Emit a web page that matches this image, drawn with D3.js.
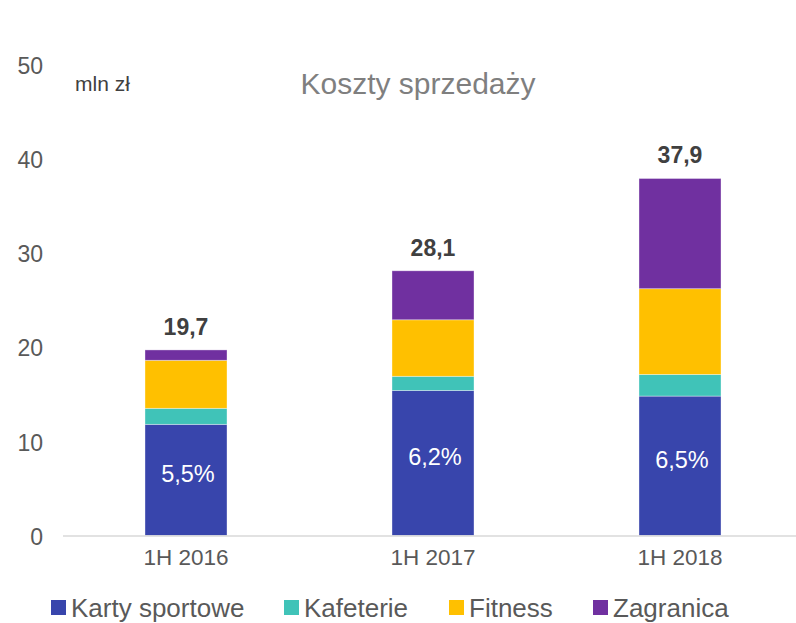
<!DOCTYPE html>
<html>
<head>
<meta charset="utf-8">
<script src="https://cdn.jsdelivr.net/npm/d3@7/dist/d3.min.js"></script>
<style>
  body { margin: 0; background: #fff; }
  text { font-family: "Liberation Sans", Arial, sans-serif; }
</style>
</head>
<body>
<svg width="796" height="623"></svg>
<script>
// data
var categories = ["1H 2016", "1H 2017", "1H 2018"];
var seriesNames = ["Karty sportowe", "Kafeterie", "Fitness", "Zagranica"];
var kartySportowe = [11.8, 15.4, 14.8];
var kafeterie = [1.7, 1.5, 2.3];
var fitness = [5.1, 6.0, 9.1];
var zagranica = [1.1, 5.2, 11.7];
var totals = ["19,7", "28,1", "37,9"];
var shares = ["5,5%", "6,2%", "6,5%"];
var yTicks = [0, 10, 20, 30, 40, 50];

var colors = ["#3845ac", "#40c3b8", "#ffc000", "#7030a0"];

var svg = d3.select("svg");

var rows = categories.map(function(c, i) {
    return {
        cat: c,
        "Karty sportowe": kartySportowe[i],
        "Kafeterie": kafeterie[i],
        "Fitness": fitness[i],
        "Zagranica": zagranica[i],
        total: totals[i],
        share: shares[i]
    };
});

var xScale = d3.scaleBand().domain(categories).range([62.5, 803.5])
        .paddingInner(0.668).paddingOuter(0.334),
    yScale = d3.scaleLinear().domain([0, 50]).range([535.5, 64.5]);

var color = d3.scaleOrdinal().domain(seriesNames).range(colors);

var stack = d3.stack().keys(seriesNames)(rows);

// y axis labels (no line, no ticks)
var yAxis = svg.append("g")
    .attr("transform", "translate(43,0)")
    .call(d3.axisLeft(yScale).tickValues(yTicks).tickSize(0).tickPadding(0));
yAxis.select(".domain").remove();
yAxis.selectAll("text")
    .attr("dy", "0.38em")
    .style("font-size", "23px")
    .style("fill", "#595959");

// bars
svg.append("g").selectAll("g")
    .data(stack)
    .enter().append("g")
    .attr("fill", function(d) { return color(d.key); })
    .selectAll("rect")
    .data(function(d) { return d; })
    .enter().append("rect")
    .attr("x", function(d) { return xScale(d.data.cat); })
    .attr("y", function(d) { return yScale(d[1]); })
    .attr("width", xScale.bandwidth())
    .attr("height", function(d) { return yScale(d[0]) - yScale(d[1]); })
    .attr("stroke", "#ffffff")
    .attr("stroke-opacity", 0.45)
    .attr("stroke-width", 0.8);

// x axis
var xAxis = svg.append("g")
    .attr("transform", "translate(0," + yScale(0) + ")")
    .call(d3.axisBottom(xScale).tickSize(0).tickPadding(21));
xAxis.select(".domain")
    .attr("stroke", "#d9d9d9")
    .attr("stroke-width", 1.5);
xAxis.selectAll("text")
    .attr("dy", "0.36em")
    .style("font-size", "22.5px")
    .style("fill", "#595959");

// total labels
svg.append("g").selectAll("text")
    .data(rows)
    .enter().append("text")
    .attr("x", function(d) { return xScale(d.cat) + xScale.bandwidth() / 2; })
    .attr("y", function(d, i) { return yScale(stack[3][i][1]) - 15; })
    .attr("text-anchor", "middle")
    .style("font-size", "23px")
    .style("font-weight", "bold")
    .style("fill", "#404040")
    .text(function(d) { return d.total; });

// share labels inside blue, a bit above the middle like the original
svg.append("g").selectAll("text")
    .data(rows)
    .enter().append("text")
    .attr("x", function(d) { return xScale(d.cat) + xScale.bandwidth() / 2 + 2; })
    .attr("y", function(d, i) { return (yScale(stack[0][i][0]) + yScale(stack[0][i][1])) / 2 - 6; })
    .attr("dy", "0.36em")
    .attr("text-anchor", "middle")
    .style("font-size", "23.5px")
    .style("fill", "#ffffff")
    .text(function(d) { return d.share; });

// title and unit
svg.append("text")
    .attr("x", 418)
    .attr("y", 94)
    .attr("text-anchor", "middle")
    .style("font-size", "30px")
    .style("fill", "#7f7f7f")
    .text("Koszty sprzedaży");

svg.append("text")
    .attr("x", 75)
    .attr("y", 91)
    .style("font-size", "21px")
    .style("fill", "#404040")
    .text("mln zł");

// legend
var legendX = [51, 284, 449, 593];
var legend = svg.append("g").selectAll("g")
    .data(seriesNames)
    .enter().append("g")
    .attr("transform", function(d, i) { return "translate(" + legendX[i] + ",600)"; });
legend.append("rect")
    .attr("width", 15)
    .attr("height", 15)
    .attr("fill", function(d) { return color(d); });
legend.append("text")
    .attr("x", 20)
    .attr("y", 7.5)
    .attr("dy", "0.36em")
    .style("font-size", "26px")
    .style("fill", "#595959")
    .text(function(d) { return d; });
</script>
</body>
</html>
